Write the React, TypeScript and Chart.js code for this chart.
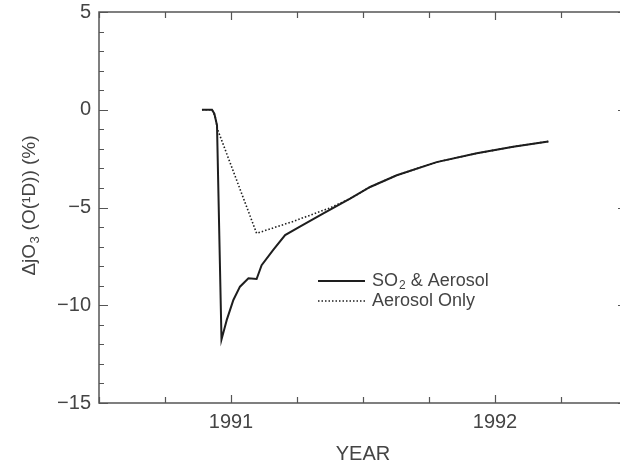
import React, { useEffect, useRef } from "react";
import { Chart, registerables } from "chart.js";

Chart.register(...registerables);

// ---- data ----
const so2Years = [
  1990.89, 1990.928, 1990.937, 1990.947, 1990.964, 1990.975, 1990.984, 1991.009,
  1991.034, 1991.066, 1991.097, 1991.116, 1991.16, 1991.205, 1991.261, 1991.35,
  1991.451, 1991.527, 1991.628, 1991.779, 1991.931, 1992.069, 1992.202,
];
const so2Values = [
  0, 0, -0.2, -0.8, -11.75, -11.2, -10.75, -9.73,
  -9.05, -8.62, -8.66, -7.95, -7.17, -6.41, -5.98, -5.3,
  -4.55, -3.95, -3.35, -2.68, -2.23, -1.89, -1.62,
];
const aerYears = [
  1990.89, 1990.928, 1990.94, 1990.949, 1991.097, 1991.236, 1991.375, 1991.451,
  1991.527, 1991.628, 1991.779, 1991.931, 1992.069, 1992.202,
];
const aerValues = [
  0, 0, -0.35, -1.0, -6.32, -5.71, -5.02, -4.55,
  -3.95, -3.35, -2.68, -2.23, -1.89, -1.62,
];
const xTickYears = [1991, 1992];
const yTickValues = [5, 0, -5, -10, -15];
const seriesLabels = ["SO₂ & Aerosol", "Aerosol Only"];
const xTitle = "YEAR";
const yTitleParts = ["ΔjO", "3", " (O(¹D)) (%)"];

const X_MIN = 1990.5;
const X_MAX = 1992.5;
const Y_MIN = -15;
const Y_MAX = 5;

const FONT = "'Liberation Sans', Arial, Helvetica, sans-serif";
const TEXT = "#444";
const AXIS = "#555";
const LINE = "#1e1e1e";

const framePlugin = {
  id: "frame",
  afterDraw(chart: any) {
    const { ctx, chartArea: a, scales } = chart;
    const xs = scales.x;
    const ys = scales.y;
    ctx.save();
    ctx.strokeStyle = AXIS;
    ctx.lineWidth = 1.5;
    ctx.strokeRect(a.left, a.top, a.right - a.left, a.bottom - a.top);
    ctx.lineWidth = 1.2;
    for (let v = X_MIN; v <= X_MAX + 1e-9; v += 0.25) {
      const px = Math.round(xs.getPixelForValue(v)) + 0.5;
      const len = Math.abs(v - Math.round(v)) < 1e-6 ? 8 : 6;
      ctx.beginPath();
      ctx.moveTo(px, a.bottom);
      ctx.lineTo(px, a.bottom - len);
      ctx.moveTo(px, a.top);
      ctx.lineTo(px, a.top + len);
      ctx.stroke();
    }
    for (let v = Y_MIN; v <= Y_MAX; v += 1) {
      const py = Math.round(ys.getPixelForValue(v)) + 0.5;
      const len = v % 5 === 0 ? 9 : 5;
      ctx.beginPath();
      ctx.moveTo(a.left, py);
      ctx.lineTo(a.left + len, py);
      ctx.moveTo(a.right, py);
      ctx.lineTo(a.right - len, py);
      ctx.stroke();
    }
    ctx.fillStyle = TEXT;
    ctx.font = `20px ${FONT}`;
    ctx.textAlign = "center";
    ctx.textBaseline = "middle";
    ctx.fillText(xTitle, (a.left + a.right) / 2, 454);
    ctx.save();
    const cy = (a.top + a.bottom) / 2 - 2;
    ctx.translate(30, cy);
    ctx.rotate(-Math.PI / 2);
    ctx.textAlign = "left";
    ctx.textBaseline = "middle";
    const big = `19px ${FONT}`;
    const small = `13px ${FONT}`;
    ctx.font = big;
    const w0 = ctx.measureText(yTitleParts[0]).width;
    const w2 = ctx.measureText(yTitleParts[2]).width;
    ctx.font = small;
    const w1 = ctx.measureText(yTitleParts[1]).width + 1;
    let x0 = -(w0 + w1 + w2) / 2;
    ctx.font = big;
    ctx.fillText(yTitleParts[0], x0, 0);
    x0 += w0;
    ctx.font = small;
    ctx.fillText(yTitleParts[1], x0 + 0.5, 5);
    x0 += w1;
    ctx.font = big;
    ctx.fillText(yTitleParts[2], x0, 0);
    ctx.restore();

    const lx0 = 318;
    const lx1 = 365;
    const ly = [281, 301];
    ctx.strokeStyle = LINE;
    ctx.lineWidth = 2;
    ctx.setLineDash([]);
    ctx.beginPath();
    ctx.moveTo(lx0, ly[0]);
    ctx.lineTo(lx1, ly[0]);
    ctx.stroke();
    ctx.lineWidth = 1.5;
    ctx.setLineDash([1.5, 2]);
    ctx.beginPath();
    ctx.moveTo(lx0, ly[1]);
    ctx.lineTo(lx1, ly[1]);
    ctx.stroke();
    ctx.setLineDash([]);
    ctx.textAlign = "left";
    ctx.textBaseline = "middle";
    ctx.fillStyle = TEXT;
    const lab = seriesLabels[0];
    const idx = lab.indexOf("₂");
    let tx = 372;
    ctx.font = `18px ${FONT}`;
    const pre = lab.slice(0, idx);
    ctx.fillText(pre, tx, ly[0]);
    tx += ctx.measureText(pre).width + 1;
    ctx.font = `12px ${FONT}`;
    ctx.fillText("2", tx, ly[0] + 5);
    tx += ctx.measureText("2").width;
    ctx.font = `18px ${FONT}`;
    ctx.fillText(lab.slice(idx + 1), tx, ly[0]);
    ctx.fillText(seriesLabels[1], 372, ly[1]);
    ctx.restore();
  },
};

export default function App() {
  const ref = useRef<HTMLCanvasElement>(null);
  useEffect(() => {
    if (!ref.current) return;
    const chart = new Chart(ref.current, {
      type: "line",
      data: {
        datasets: [
          {
            label: seriesLabels[1],
            data: aerYears.map((x, i) => ({ x, y: aerValues[i] })),
            borderColor: LINE,
            borderWidth: 1.6,
            borderDash: [1.5, 2],
            pointRadius: 0,
            tension: 0,
            fill: false,
          },
          {
            label: seriesLabels[0],
            data: so2Years.map((x, i) => ({ x, y: so2Values[i] })),
            borderColor: LINE,
            borderWidth: 2,
            pointRadius: 0,
            tension: 0,
            fill: false,
          },
        ],
      },
      options: {
        animation: false,
        responsive: false,
        layout: { padding: { top: 12, right: 13, left: 0, bottom: 0 } },
        plugins: { legend: { display: false }, tooltip: { enabled: false } },
        scales: {
          x: {
            type: "linear",
            min: X_MIN,
            max: X_MAX,
            afterBuildTicks: (s: any) => {
              s.ticks = xTickYears.map((v) => ({ value: v }));
            },
            afterFit: (s: any) => {
              s.height = 60;
              s.paddingLeft = 0;
              s.paddingRight = 0;
            },
            grid: { display: false, drawTicks: false },
            border: { display: false },
            ticks: {
              padding: 7,
              color: TEXT,
              font: { family: FONT, size: 20 },
              callback: (v: any) => String(v),
              maxRotation: 0,
            },
          },
          y: {
            type: "linear",
            min: Y_MIN,
            max: Y_MAX,
            afterBuildTicks: (s: any) => {
              s.ticks = yTickValues.map((v) => ({ value: v }));
            },
            afterFit: (s: any) => {
              s.width = 99;
              s.paddingTop = 0;
              s.paddingBottom = 0;
            },
            grid: { display: false, drawTicks: false },
            border: { display: false },
            ticks: {
              padding: 8,
              color: TEXT,
              font: { family: FONT, size: 20 },
              callback: (v: any) => (v < 0 ? "−" + Math.abs(v) : String(v)),
            },
          },
        },
      },
      plugins: [framePlugin],
    });
    return () => chart.destroy();
  }, []);
  return (
    <div
      style={{
        position: "fixed",
        left: 0,
        top: 0,
        width: 620,
        height: 463,
        overflow: "hidden",
        background: "#fff",
      }}
    >
      <canvas ref={ref} width={640} height={463} style={{ display: "block" }} />
    </div>
  );
}
